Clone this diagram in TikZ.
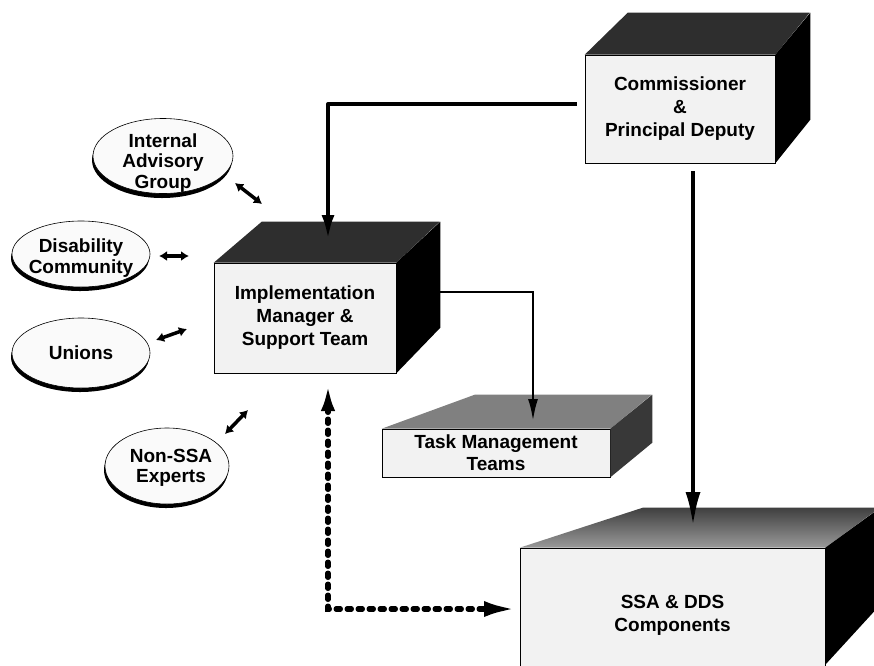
\documentclass[tikz,border=0pt]{standalone}
\usepackage{fontspec}
\setmainfont{Liberation Sans}
\usetikzlibrary{arrows.meta,calc,shapes.geometric}
\begin{document}
\begin{tikzpicture}[x=1pt,y=-1pt,
  front/.style={draw=black, line width=0.6pt, fill=black!5, inner sep=0pt,
    font=\bfseries\fontsize{19}{23}\selectfont, align=center},
  darktop/.style={fill=black!82},
  midtop/.style={fill=black!50},
  sideface/.style={fill=black},
  oval/.style={ellipse, draw=black, line width=0.6pt, fill=black!2, inner sep=0pt},
  ovalshadow/.style={fill=black},
  otext/.style={font=\bfseries\fontsize{19}{20.5}\selectfont, align=center, inner sep=0pt},
  mainarrow/.style={line width=4pt, -{Latex[length=24pt,width=13pt]}},
  longarrow/.style={line width=4pt, -{Latex[length=34pt,width=15pt]}},
  subarrow/.style={line width=2.5pt, -{Latex[length=22pt,width=10pt]}},
  dblarrow/.style={line width=3.5pt, {Latex[length=8pt,width=10pt]}-{Latex[length=8pt,width=10pt]}},
  dotarrow/.style={line width=5.5pt, dash pattern=on 4pt off 7pt, line cap=round,
    {Latex[length=28pt,width=14pt]}-{Latex[length=32pt,width=16pt]}}
]
\useasboundingbox (0,0) rectangle (874,665);

% ---------- Commissioner box ----------
\node[front, minimum width=190pt, minimum height=108pt] (comm) at (680,109)
  {Commissioner\\\&\\Principal Deputy};
\fill[darktop] (comm.north west) -- ++(43,-42) -- ++(182,0) -- (comm.north east) -- cycle;
\fill[sideface] (comm.north east) -- ++(35,-42) -- ++(0,107) -- (comm.south east) -- cycle;

% ---------- Implementation box ----------
\node[front, minimum width=182pt, minimum height=110pt] (imp) at (305,318)
  {Implementation\\Manager \&\\Support Team};
\fill[darktop] (imp.north west) -- ++(48,-41) -- ++(178,0) -- (imp.north east) -- cycle;
\fill[sideface] (imp.north east) -- ++(44,-41) -- ++(0,106) -- (imp.south east) -- cycle;

% ---------- Task Management box ----------
\node[front, minimum width=228pt, minimum height=48pt, font=\bfseries\fontsize{19}{22}\selectfont] (task) at (496,453)
  {Task Management\\Teams};
\fill[midtop] (task.north west) -- ++(93,-34) -- ++(177,0) -- (task.north east) -- cycle;
\fill[black!78] (task.north east) -- ++(42,-34) -- ++(0,48) -- (task.south east) -- cycle;

% ---------- SSA & DDS box ----------
\node[front, minimum width=305pt, minimum height=134pt] (ssa) at (672.5,615)
  {SSA \& DDS\\Components};
\shade[top color=black!75, bottom color=black!40] (ssa.north west) -- ++(123,-40) -- ++(237,0) -- (ssa.north east) -- cycle;
\fill[sideface] (ssa.north east) -- ++(55,-40) -- ++(0,97) -- ++(-55,60) -- cycle;

% ---------- Ellipses ----------
\fill[ovalshadow] (162,160) ellipse (70pt and 38pt);
\node[oval, minimum width=140pt, minimum height=75pt] (iago) at (163,156) {};
\node[otext] (iag) at (163,163) {Internal\\Advisory\\Group};

\fill[ovalshadow] (80,258) ellipse (69pt and 33pt);
\node[oval, minimum width=138pt, minimum height=66pt] (disco) at (81,254) {};
\node[otext] (dis) at (81,258) {Disability\\Community};

\fill[ovalshadow] (80,357) ellipse (69pt and 35pt);
\node[oval, minimum width=138pt, minimum height=70pt] (unio) at (81,353) {};
\node[otext] (uni) at (81,353) {Unions};

\fill[ovalshadow] (166,470) ellipse (62pt and 38pt);
\node[oval, minimum width=124pt, minimum height=76pt] (nsso) at (167,466) {};
\node[otext] (nss) at (171,468) {Non-SSA\\Experts};

% ---------- Double arrows to advisory groups ----------
\draw[dblarrow] ($(iago)+(72,27)$) -- ($(iago)+(99,48)$);
\draw[dblarrow] ($(disco)+(78,2)$) -- ($(disco)+(108,2)$);
\draw[dblarrow] ($(unio)+(75,-13)$) -- ($(unio)+(106,-24)$);
\draw[dblarrow] ($(nsso)+(58,-32)$) -- ($(nsso)+(81,-56)$);

% ---------- Connectors ----------
\coordinate (c1) at (328,104);
\coordinate (imptop) at (328,239);
\draw[mainarrow, line join=round] ([xshift=-8pt,yshift=5pt]comm.west) -- (c1) -- (imptop);

\coordinate (ssatop) at (693,526);
\draw[longarrow] ([xshift=13pt,yshift=-8pt]comm.south) -- (ssatop);

\coordinate (tasktip) at (533,421);
\draw[subarrow] ([xshift=44pt,yshift=26pt]imp.east) -| (tasktip);

\coordinate (impbot) at (328,383);
\coordinate (dcorner) at (328,609);
\coordinate (ssaleft) at (516,609);
\draw[dotarrow] (impbot) -- (dcorner) -- (ssaleft);

\end{tikzpicture}
\end{document}
